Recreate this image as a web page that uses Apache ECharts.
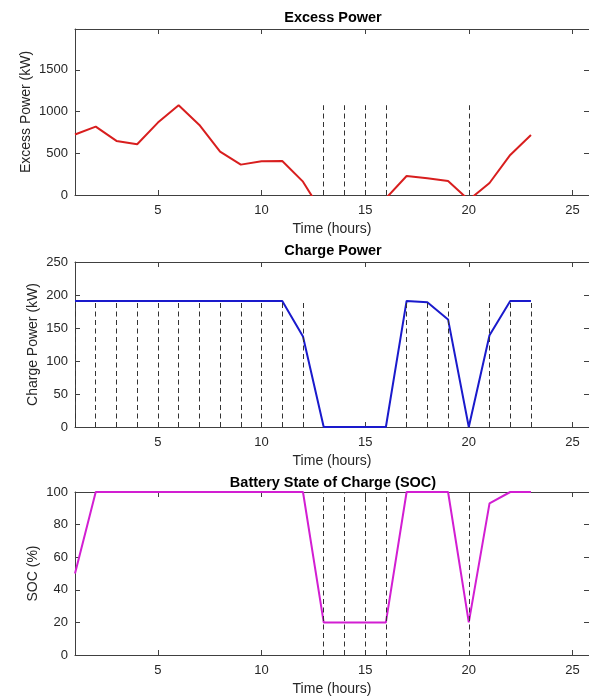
<!DOCTYPE html>
<html><head><meta charset="utf-8">
<script src="https://cdn.jsdelivr.net/npm/echarts@6/dist/echarts.min.js"></script>
<style>html,body{margin:0;padding:0;background:#fff}#c{width:589px;height:697px}</style>
</head><body><div id="c"></div>
<script>
// ---- data ----
const hours = [1,2,3,4,5,6,7,8,9,10,11,12,13,14,15,16,17,18,19,20,21,22,23];
const excessPower = [725,820,648,608,868,1076,840,520,364,404,408,160,-240,-320,-280,-40,228,200,168,-60,144,480,720];
const chargePower = [191,191,191,191,191,191,191,191,191,191,191,137,0,0,0,0,191,189,163,0,139,191,191];
const socPercent  = [50,100,100,100,100,100,100,100,100,100,100,100,20,20,20,20,100,100,100,20,93,100,100];
const xTicks = [5,10,15,20,25];
const excessTicks = [0,500,1000,1500];
const chargeTicks = [0,50,100,150,200,250];
const socTicks = [0,20,40,60,80,100];
const titles = ['Excess Power','Charge Power','Battery State of Charge (SOC)'];
const yNames = ['Excess Power (kW)','Charge Power (kW)','SOC (%)'];
const xName = 'Time (hours)';

// dashed marker hours derived from the data
const deficitHours = hours.filter((h,i)=>excessPower[i] < 0);
const chargingHours = hours.filter((h,i)=>chargePower[i] > 0);

const FONT = 'Liberation Sans, Arial, Helvetica, sans-serif';
const TXT = '#262626';
const AX = '#404040';
const fmt = v => String(v);

const grids = [
  {left:75, top:29, width:515, height:166},
  {left:75, top:262, width:515, height:165},
  {left:75, top:492, width:515, height:166}
];
const yMax = [1990, 250, 100];
const yTicks = [excessTicks, chargeTicks, socTicks];
const yNameGap = [42, 35, 35];
const colors = ['#d81e1e','#1a1acc','#d21ed2'];
const values = [excessPower, chargePower, socPercent];
const dashSets = [deficitHours, chargingHours, deficitHours];

const xAxes = [], yAxes = [], series = [];
for (let i=0;i<3;i++){
  xAxes.push({type:'value', gridIndex:i, min:1, max:25.8, position:'bottom',
    axisLine:{show:true, onZero:false, lineStyle:{color:AX, width:1}},
    axisTick:{show:true, inside:true, length:5, customValues:xTicks, lineStyle:{color:AX}},
    axisLabel:{customValues:xTicks, formatter:fmt, color:TXT, fontSize:13, margin:9, fontFamily:FONT},
    splitLine:{show:false},
    name:xName, nameLocation:'middle', nameGap:27, nameMoveOverlap:false,
    nameTextStyle:{color:TXT, fontSize:14, fontFamily:FONT}});
  xAxes.push({type:'value', gridIndex:i, min:1, max:25.8, position:'top',
    axisLine:{show:true, onZero:false, lineStyle:{color:AX, width:1}},
    axisTick:{show:true, inside:true, length:5, customValues:xTicks, lineStyle:{color:AX}},
    axisLabel:{show:false}, splitLine:{show:false}});
  yAxes.push({type:'value', gridIndex:i, min:0, max:yMax[i], position:'left',
    axisLine:{show:true, onZero:false, lineStyle:{color:AX, width:1}},
    axisTick:{show:true, inside:true, length:5, customValues:yTicks[i], lineStyle:{color:AX}},
    axisLabel:{customValues:yTicks[i], formatter:fmt, color:TXT, fontSize:13, margin:7, fontFamily:FONT},
    splitLine:{show:false},
    name:yNames[i], nameLocation:'middle', nameGap:yNameGap[i], nameRotate:90, nameMoveOverlap:false,
    nameTextStyle:{color:TXT, fontSize:14, fontFamily:FONT}});
  yAxes.push({type:'value', gridIndex:i, min:0, max:yMax[i], position:'right',
    axisLine:{show:true, onZero:false, lineStyle:{color:AX, width:1}},
    axisTick:{show:true, inside:true, length:5, customValues:yTicks[i], lineStyle:{color:AX}},
    axisLabel:{show:false}, splitLine:{show:false}});
  const vals = values[i];
  const top = Math.max.apply(null, vals);
  series.push({type:'line', xAxisIndex:2*i, yAxisIndex:2*i, clip:true,
    data: hours.map((h,k)=>[h, vals[k]]),
    showSymbol:false, symbol:'none', lineStyle:{color:colors[i], width:2}, itemStyle:{color:colors[i]},
    z:3,
    markLine:{symbol:['none','none'], silent:true, label:{show:false}, animation:false,
      lineStyle:{type:[5,3.5], color:'#333', width:1},
      emphasis:{disabled:true},
      data: dashSets[i].map(h=>[{coord:[h,0]},{coord:[h,top]}])}
  });
}

const titleTops = [10, 243, 475];
const chart = echarts.init(document.getElementById('c'), null, {renderer:'canvas'});
chart.setOption({
  animation:false,
  backgroundColor:'#fff',
  title: titles.map((t,i)=>({text:t, left:333, top:titleTops[i], textAlign:'center', padding:0,
    textStyle:{fontSize:14.5, fontWeight:'bold', color:'#000', fontFamily:FONT}})),
  grid: grids,
  xAxis: xAxes,
  yAxis: yAxes,
  series: series
});
</script>
</body></html>
